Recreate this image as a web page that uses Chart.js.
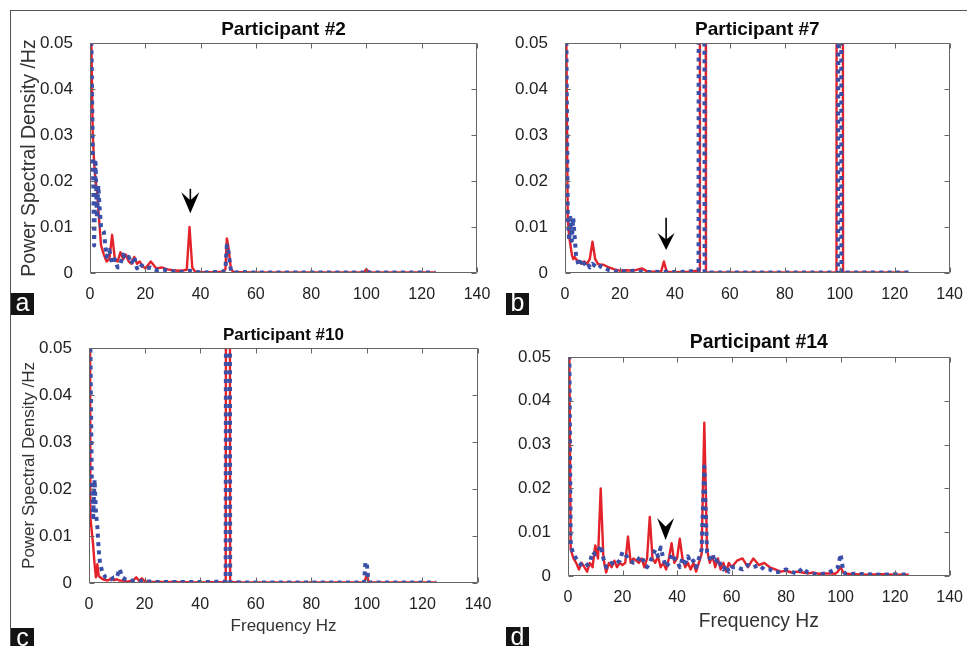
<!DOCTYPE html>
<html>
<head>
<meta charset="utf-8">
<script src="https://cdn.jsdelivr.net/npm/chart.js@4.4.1/dist/chart.umd.min.js"></script>
<style>
  html, body { margin: 0; padding: 0; background: #fff; }
  #fig { position: relative; width: 967px; height: 646px; overflow: hidden; background: #fff;
         font-family: "Liberation Sans", Arial, sans-serif; }
  #fig canvas { position: absolute; }
  .frame { position: absolute; left: 10px; top: 10px; width: 957px; height: 636px;
           border-top: 1px solid #555; border-left: 1px solid #555; }
  .tag { position: absolute; width: 23px; height: 22px; background: #141414; color: #fff;
         font-size: 25px; line-height: 19px; text-align: center; }
</style>
</head>
<body>
<div id="fig">
  <div class="frame"></div>
  <canvas id="cA" width="500" height="320" style="left:0;top:0"></canvas>
  <canvas id="cB" width="484" height="320" style="left:483px;top:0"></canvas>
  <canvas id="cC" width="500" height="346" style="left:0;top:300px"></canvas>
  <canvas id="cD" width="484" height="346" style="left:483px;top:300px"></canvas>
  <div class="tag" style="left:11px;top:293px">a</div>
  <div class="tag" style="left:506px;top:293px">b</div>
  <div class="tag" style="left:11px;top:628px">c</div>
  <div class="tag" style="left:506px;top:627px">d</div>
</div>
<script>
/* spectra (PSD per Hz) */

var xTicks = [0, 20, 40, 60, 80, 100, 120, 140];
var yTicks = [0, 0.01, 0.02, 0.03, 0.04, 0.05];

/* Participant #2 */
var freqA = [0, 0.5, 1, 1.5, 2, 2.5, 3, 3.5, 4,
  5, 6, 7, 8, 9, 10, 11, 12, 13, 14, 15, 16, 17, 18, 19, 20,
  22, 24, 26, 28, 30, 32, 34, 35, 36, 37, 38, 40,
  45, 48, 49, 49.5, 50, 51, 52, 55, 60, 70, 80, 90, 99, 100, 101, 110, 125];
var redA = [0.2, 0.05, 0.03, 0.024, 0.02, 0.018, 0.014, 0.01, 0.006,
  0.004, 0.0025, 0.003, 0.0083, 0.003, 0.0025, 0.0045, 0.003, 0.004, 0.0025, 0.002, 0.0035, 0.002, 0.0025, 0.0015, 0.001,
  0.0025, 0.001, 0.0012, 0.0008, 0.0006, 0.0005, 0.0006, 0.0007, 0.01, 0.0012, 0.0003, 0.0002,
  0.0002, 0.0003, 0.0008, 0.0075, 0.006, 0.0008, 0.0002, 0.0002, 0.0001, 0.0001, 0.0001, 0.0001, 0.0001, 0.0008, 0.0001, 0.0001, 0.0001];
var blueA = [0.2, 0.05, 0.027, 0.006, 0.024, 0.012, 0.019, 0.014, 0.01,
  0.009, 0.0035, 0.005, 0.002, 0.003, 0.0012, 0.002, 0.004, 0.003, 0.0035, 0.002, 0.0035, 0.001, 0.002, 0.0015, 0.001,
  0.0012, 0.0006, 0.0008, 0.0006, 0.0004, 0.0002, 0.0003, 0.0004, 0.0005, 0.0004, 0.0003, 0.0001,
  0.0002, 0.0002, 0.001, 0.006, 0.005, 0.0005, 0.0001, 0.0002, 0.0001, 0.0001, 0.0001, 0.0001, 0.0001, 0.0006, 0.0001, 0.0001, 0.0001];

/* Participant #7 */
var freqB = [0, 0.5, 1, 1.5, 2, 2.5, 3, 3.5, 4,
  5, 6, 7, 8, 9, 10, 11, 12, 13, 14,
  16, 18, 20, 22, 25, 28, 30, 33, 35, 36, 37, 40, 45,
  48.6, 48.8, 49.1, 50.6, 50.8, 51.1, 51.3,
  55, 60, 70, 80, 90,
  98.8, 99, 99.4, 99.6, 100.4, 100.6, 101, 101.2,
  110, 125];
var redB = [0.2, 0.05, 0.012, 0.008, 0.006, 0.004, 0.003, 0.0035, 0.003,
  0.0025, 0.002, 0.0025, 0.002, 0.003, 0.0068, 0.003, 0.002, 0.0018, 0.0018,
  0.0012, 0.0008, 0.0005, 0.0006, 0.0005, 0.001, 0.0003, 0.0003, 0.0003, 0.0025, 0.0003, 0.0002, 0.0003,
  0.0005, 0.0005, 0.2, 0.2, 0.2, 0.2, 0.0001,
  0.0001, 0.0001, 0.0001, 0.0001, 0.0001,
  0.0001, 0.2, 0.2, 0.2, 0.2, 0.2, 0.2, 0.0001,
  0.0001, 0.0001];
var blueB = [0.2, 0.05, 0.013, 0.007, 0.012, 0.007, 0.012, 0.008, 0.004,
  0.0015, 0.003, 0.002, 0.0025, 0.0012, 0.002, 0.0015, 0.001, 0.0015, 0.0012,
  0.0006, 0.0003, 0.0006, 0.0003, 0.0005, 0.0003, 0.0002, 0.0003, 0.0002, 0.0002, 0.0003, 0.0002, 0.0003,
  0.0006, 0.2, 0.2, 0.2, 0.0001, 0.0001, 0.0001,
  0.0001, 0.0001, 0.0001, 0.0001, 0.0001,
  0.0001, 0.0001, 0.0001, 0.2, 0.2, 0.0001, 0.0001, 0.0001,
  0.0001, 0.0001];

/* Participant #10 */
var freqC = [0, 0.5, 1, 1.5, 2, 2.5, 3, 3.5, 4,
  5, 6, 7, 8, 9, 10, 11, 12, 13, 14,
  16, 17, 18, 19, 20, 22, 25, 30, 40,
  49.2, 49.5, 50.5, 50.8,
  55, 60, 70, 80, 90,
  99, 99.5, 100, 100.5, 101,
  110, 125];
var redC = [0.2, 0.014, 0.011, 0.008, 0.004, 0.0012, 0.004, 0.0015, 0.0012,
  0.0008, 0.0006, 0.0006, 0.001, 0.0006, 0.0008, 0.0005, 0.0005, 0.0004, 0.0003,
  0.0006, 0.0012, 0.0005, 0.001, 0.0004, 0.0002, 0.0002, 0.0002, 0.0001,
  0.0002, 0.2, 0.2, 0.0002,
  0.0001, 0.0001, 0.0001, 0.0001, 0.0001,
  0.0001, 0.0008, 0.002, 0.0005, 0.0001,
  0.0001, 0.0001];
var blueC = [0.2, 0.05, 0.022, 0.014, 0.022, 0.015, 0.012, 0.007, 0.004,
  0.002, 0.0012, 0.001, 0.0008, 0.0012, 0.0012, 0.003, 0.0012, 0.0008, 0.0006,
  0.0005, 0.0006, 0.0004, 0.0004, 0.0003, 0.0003, 0.0002, 0.0002, 0.0002,
  0.0003, 0.2, 0.2, 0.0002,
  0.0001, 0.0001, 0.0001, 0.0001, 0.0001,
  0.0001, 0.0045, 0.004, 0.0008, 0.0001,
  0.0001, 0.0001];

/* Participant #14 */
var freqD = [0, 0.5, 1, 2, 3, 4, 5, 6, 7, 8,
  9, 10, 11, 12, 13, 14, 15, 16, 17, 18,
  19, 20, 21, 22, 23, 24, 25, 26, 27, 28,
  29, 30, 31, 32, 33, 34, 35, 36, 37, 38,
  39, 40, 41, 42, 43, 44, 45, 46, 47, 48,
  49, 50, 51, 52, 53, 54, 55, 56, 57, 58,
  59, 60, 62, 64, 66, 68, 70, 72, 74, 76,
  78, 80, 82, 84, 86, 88, 90, 92, 95, 98,
  99, 100, 101, 102, 105, 110, 115, 120, 125];
var redD = [0.2, 0.05, 0.006, 0.004, 0.003, 0.0015, 0.003, 0.002, 0.001, 0.003,
  0.002, 0.007, 0.004, 0.020, 0.004, 0.0008, 0.003, 0.002, 0.0035, 0.002,
  0.003, 0.0025, 0.003, 0.009, 0.003, 0.004, 0.0035, 0.003, 0.004, 0.002,
  0.004, 0.0135, 0.004, 0.003, 0.0045, 0.002, 0.003, 0.0015, 0.004, 0.0075,
  0.003, 0.004, 0.0085, 0.004, 0.002, 0.003, 0.0015, 0.003, 0.001, 0.003,
  0.005, 0.035, 0.006, 0.003, 0.0045, 0.002, 0.004, 0.0015, 0.003, 0.001,
  0.003, 0.002, 0.0035, 0.004, 0.002, 0.004, 0.0025, 0.003, 0.002, 0.0015,
  0.001, 0.0012, 0.0008, 0.001, 0.0008, 0.0006, 0.0008, 0.0005, 0.0006, 0.0005,
  0.001, 0.002, 0.0008, 0.0005, 0.0004, 0.0003, 0.0004, 0.0003, 0.0003];
var blueD = [0.2, 0.05, 0.007, 0.005, 0.004, 0.003, 0.0025, 0.002, 0.0025, 0.003,
  0.0055, 0.005, 0.0055, 0.007, 0.004, 0.002, 0.0025, 0.003, 0.0025, 0.003,
  0.0035, 0.0055, 0.005, 0.004, 0.0035, 0.003, 0.003, 0.004, 0.0045, 0.003,
  0.002, 0.003, 0.0045, 0.006, 0.0045, 0.0065, 0.004, 0.002, 0.003, 0.005,
  0.004, 0.0035, 0.002, 0.004, 0.003, 0.0045, 0.003, 0.0035, 0.002, 0.004,
  0.006, 0.025, 0.0055, 0.004, 0.005, 0.003, 0.004, 0.0025, 0.0015, 0.0025,
  0.001, 0.002, 0.002, 0.0015, 0.0025, 0.002, 0.0025, 0.0015, 0.0015, 0.0008,
  0.001, 0.0015, 0.001, 0.0005, 0.0018, 0.0008, 0.0005, 0.0004, 0.0006, 0.0015,
  0.002, 0.005, 0.001, 0.0004, 0.0005, 0.0004, 0.0003, 0.0004, 0.0003];

var RED = "#e3222a", BLUE = "#3a4fa8";
var FONT = '"Liberation Sans", Arial, Helvetica, sans-serif';

Chart.defaults.font.family = FONT;
Chart.defaults.color = "#1e1e1e";

function pts(freq, vals) {
  return freq.map(function (f, i) { return { x: f, y: vals[i] }; });
}

/* box, inward ticks, title, arrow */
var decoPlugin = {
  id: "deco",
  afterDraw: function (chart, args, o) {
    var ctx = chart.ctx, a = chart.chartArea;
    var xs = chart.scales.x, ys = chart.scales.y;
    var L = Math.round(a.left) + 0.5, R = Math.round(a.right) - 0.5;
    var T = Math.round(a.top) + 0.5, B = Math.round(a.bottom) - 0.5;
    ctx.save();
    ctx.strokeStyle = "#666"; ctx.lineWidth = 1;
    ctx.beginPath();
    ctx.rect(L, T, R - L, B - T);
    xs.ticks.forEach(function (t) {
      var px = Math.round(xs.getPixelForValue(t.value)) + 0.5;
      ctx.moveTo(px, B); ctx.lineTo(px, B - 5);
      ctx.moveTo(px, T); ctx.lineTo(px, T + 5);
    });
    ys.ticks.forEach(function (t) {
      var py = Math.round(ys.getPixelForValue(t.value)) + 0.5;
      ctx.moveTo(L, py); ctx.lineTo(L + 5, py);
      ctx.moveTo(R, py); ctx.lineTo(R - 5, py);
    });
    ctx.stroke();

    ctx.fillStyle = "#0a0a0a";
    ctx.font = "bold " + o.titleSize + "px " + FONT;
    ctx.textAlign = "center"; ctx.textBaseline = "middle";
    ctx.fillText(o.title, (a.left + a.right) / 2, a.top - o.titleGap);

    if (o.arrow) {
      var ar = o.arrow;
      var x = xs.getPixelForValue(ar.f);
      var yTip = ys.getPixelForValue(ar.tip), yTop = ys.getPixelForValue(ar.top);
      ctx.strokeStyle = "#000"; ctx.fillStyle = "#000"; ctx.lineWidth = 1.6;
      if (yTop < yTip - ar.head) {
        ctx.beginPath(); ctx.moveTo(x, yTop); ctx.lineTo(x, yTip - ar.head * 0.5); ctx.stroke();
      }
      ctx.beginPath();
      ctx.moveTo(x, yTip);
      ctx.lineTo(x - ar.half, yTip - ar.head);
      ctx.lineTo(x, yTip - ar.head * 0.62);
      ctx.lineTo(x + ar.half, yTip - ar.head);
      ctx.closePath(); ctx.fill();
    }
    ctx.restore();
  }
};

function makePanel(id, spec, freq, red, blue) {
  var c = spec.canvas;
  var want = { l: spec.area.l - c.l, t: spec.area.t - c.t, r: spec.area.r - c.l, b: spec.area.b - c.t };
  var chart = new Chart(document.getElementById(id), {
    type: "line",
    data: {
      datasets: [
        { data: pts(freq, blue), borderColor: BLUE, borderWidth: 4, borderDash: [4, 4.4],
          borderCapStyle: "butt", borderJoinStyle: "round", pointRadius: 0, tension: 0, order: 0 },
        { data: pts(freq, red), borderColor: RED, borderWidth: 2.4,
          borderJoinStyle: "round", pointRadius: 0, tension: 0, order: 1 }
      ]
    },
    options: {
      responsive: false, animation: false, devicePixelRatio: 1,
      layout: { padding: { left: 0, top: want.t, right: c.w - want.r, bottom: c.h - want.b - spec.xHeight } },
      plugins: {
        legend: { display: false }, tooltip: { enabled: false },
        deco: { title: spec.title, titleSize: spec.titleSize, titleGap: spec.titleGap, arrow: spec.arrow }
      },
      scales: {
        x: {
          type: "linear", min: 0, max: 140,
          afterBuildTicks: function (s) { s.ticks = xTicks.map(function (v) { return { value: v }; }); },
          ticks: { padding: 4, maxRotation: 0, autoSkip: false, font: { size: 16 }, color: "#222" },
          grid: { display: false }, border: { display: false },
          title: { display: !!spec.xTitle, text: spec.xTitle || "", color: "#333",
                   font: { size: spec.xTitleSize || 17 }, padding: { top: 0, bottom: spec.xTitlePad || 0 } },
          afterFit: function (s) { s.height = spec.xHeight; }
        },
        y: {
          min: 0, max: 0.05,
          afterBuildTicks: function (s) { s.ticks = yTicks.map(function (v) { return { value: v }; }); },
          ticks: { padding: 9, autoSkip: false, font: { size: 17 }, color: "#222",
                   callback: function (v) { return v === 0 ? "0" : v.toFixed(2); } },
          grid: { display: false }, border: { display: false },
          title: { display: !!spec.yTitle, text: spec.yTitle || "", color: "#333",
                   font: { size: spec.yTitleSize || 17 }, padding: { top: spec.yTitlePad || 0, bottom: 0 } },
          afterFit: function (s) { s.width = want.l; }
        }
      }
    },
    plugins: [decoPlugin]
  });
  /* nudge padding so the plot box sits where it does in the figure */
  var a = chart.chartArea, p = chart.options.layout.padding;
  chart.options.layout.padding = {
    left: 0,
    top: p.top + (want.t - a.top),
    right: p.right + (a.right - want.r),
    bottom: p.bottom + (a.bottom - want.b)
  };
  chart.update();
  return chart;
}

makePanel("cA", {
  canvas: { l: 0, t: 0, w: 500, h: 320 }, area: { l: 90, t: 43, r: 477, b: 273 },
  title: "Participant #2", titleSize: 19, titleGap: 13,
  yTitle: "Power Spectral Density /Hz", yTitleSize: 19.5, yTitlePad: 18,
  xHeight: 30,
  arrow: { f: 36.3, tip: 0.013, top: 0.0183, head: 21, half: 9 }
}, freqA, redA, blueA);

makePanel("cB", {
  canvas: { l: 483, t: 0, w: 484, h: 320 }, area: { l: 565, t: 43, r: 952, b: 273 },
  title: "Participant #7", titleSize: 19, titleGap: 13,
  xHeight: 30,
  arrow: { f: 36.8, tip: 0.005, top: 0.012, head: 17, half: 8.5 }
}, freqB, redB, blueB);

makePanel("cC", {
  canvas: { l: 0, t: 300, w: 500, h: 346 }, area: { l: 89, t: 348, r: 478, b: 583 },
  title: "Participant #10", titleSize: 17, titleGap: 13,
  yTitle: "Power Spectral Density /Hz", yTitleSize: 17, yTitlePad: 19,
  xTitle: "Frequency Hz", xTitleSize: 17, xTitlePad: 8,
  xHeight: 62
}, freqC, redC, blueC);

makePanel("cD", {
  canvas: { l: 483, t: 300, w: 484, h: 346 }, area: { l: 568, t: 357, r: 951, b: 576 },
  title: "Participant #14", titleSize: 19.4, titleGap: 14,
  xTitle: "Frequency Hz", xTitleSize: 19.3, xTitlePad: 4.5,
  xHeight: 62,
  arrow: { f: 35.8, tip: 0.0082, top: 0.0132, head: 22, half: 8.5 }
}, freqD, redD, blueD);
</script>
</body>
</html>
